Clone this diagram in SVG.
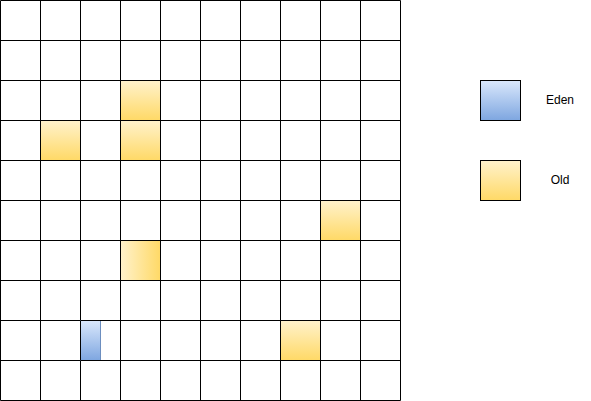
<svg xmlns="http://www.w3.org/2000/svg" width="591" height="401" viewBox="0 0 591 401">
<defs>
<linearGradient id="gOld" x1="0" y1="0" x2="0" y2="1"><stop offset="0" stop-color="#fff2cc"/><stop offset="1" stop-color="#ffd966"/></linearGradient>
<linearGradient id="gOldH" x1="0" y1="0" x2="1" y2="0"><stop offset="0" stop-color="#fff2cc"/><stop offset="1" stop-color="#ffd966"/></linearGradient>
<linearGradient id="gEden" x1="0" y1="0" x2="0" y2="1"><stop offset="0" stop-color="#dae8fc"/><stop offset="1" stop-color="#7ea6e0"/></linearGradient>
<style>
.grid{fill:none;stroke:#000;stroke-width:1}
.old{fill:url(#gOld);stroke:#000;stroke-width:1}
.oldh{fill:url(#gOldH);stroke:#000;stroke-width:1}
.eden{fill:url(#gEden);stroke:#6c8ebf;stroke-width:1}
.edenL{fill:url(#gEden);stroke:#000;stroke-width:1}
.oldL{fill:url(#gOld);stroke:#000;stroke-width:1}
.lbl{font-family:"Liberation Sans",Arial,sans-serif;font-size:12px;fill:#000;text-anchor:middle}
</style>
</defs>
<rect width="591" height="401" fill="#fff"/>
<g id="grid">
<path class="grid" d="M0.5 0.5V400.5M40.5 0.5V400.5M80.5 0.5V400.5M120.5 0.5V400.5M160.5 0.5V400.5M200.5 0.5V400.5M240.5 0.5V400.5M280.5 0.5V400.5M320.5 0.5V400.5M360.5 0.5V400.5M400.5 0.5V400.5M0.5 0.5H400.5M0.5 40.5H400.5M0.5 80.5H400.5M0.5 120.5H400.5M0.5 160.5H400.5M0.5 200.5H400.5M0.5 240.5H400.5M0.5 280.5H400.5M0.5 320.5H400.5M0.5 360.5H400.5M0.5 400.5H400.5"/>
</g>
<g id="old1"><rect class="old" x="120.5" y="80.5" width="40" height="40"/></g>
<g id="old2"><rect class="old" x="40.5" y="120.5" width="40" height="40"/></g>
<g id="old3"><rect class="old" x="120.5" y="120.5" width="40" height="40"/></g>
<g id="old4"><rect class="old" x="320.5" y="200.5" width="40" height="40"/></g>
<g id="old5"><rect class="oldh" x="120.5" y="240.5" width="40" height="40"/></g>
<g id="old6"><rect class="old" x="280.5" y="320.5" width="40" height="40"/></g>
<g id="eden1"><rect class="eden" x="80.5" y="320.5" width="20" height="40"/><path class="grid" d="M80.5 320.5V360.5M80.5 320.5H120.5M80.5 360.5H120.5"/></g>
<g id="legend-eden"><rect class="edenL" x="480.5" y="80.5" width="40" height="40"/><text class="lbl" x="560" y="104">Eden</text></g>
<g id="legend-old"><rect class="oldL" x="480.5" y="160.5" width="40" height="40"/><text class="lbl" x="560" y="184">Old</text></g>
</svg>
